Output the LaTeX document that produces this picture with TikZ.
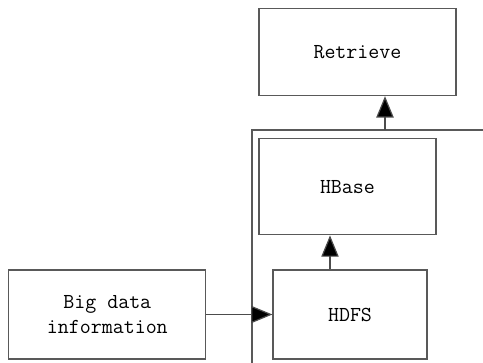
\documentclass[tikz,border=0pt]{standalone}
\usetikzlibrary{positioning,arrows.meta}
\tikzset{
  box/.style={draw=black!65, line width=0.9pt, inner sep=2pt, align=center,
    font=\ttfamily\fontsize{16}{19}\selectfont},
  arr/.style={draw=black!70, line width=0.9pt, -{Triangle[length=16pt,width=13pt,fill=black]}}
}
\begin{document}
\begin{tikzpicture}[x=0.75pt, y=-0.75pt, node distance=25pt]
  \useasboundingbox (0,0) rectangle (483,363);

  \node[box, minimum width=115.5pt, minimum height=66.75pt] (HDFS) at (350,314.5) {HDFS};
  \node[box, minimum width=147.75pt, minimum height=66.75pt, left=49.5pt of HDFS] (Big) {Big data\\information};
  \node[box, minimum width=132.75pt, minimum height=72pt, above=25.5pt of HDFS, xshift=-1.9pt] (HBase) {HBase};
  \node[box, minimum width=147.75pt, minimum height=65.25pt, above=31.5pt of HBase, xshift=7.5pt] (Retrieve) {Retrieve};

  % frame round the storage part
  \coordinate (fbot) at (252,363);
  \coordinate (fcorner) at (252,130);
  \coordinate (fright) at (483,130);
  \coordinate (ftop) at (385,130);
  \draw[draw=black!65, line width=0.9pt] (fbot) -- (fcorner) -- (fright);

  \coordinate (up) at ([xshift=-15pt]HDFS.north);
  \draw[arr] (Big) -- (HDFS);
  \draw[arr] (up) -- (up |- HBase.south);
  \draw[arr] (ftop) -- (ftop |- Retrieve.south);

\end{tikzpicture}
\end{document}
